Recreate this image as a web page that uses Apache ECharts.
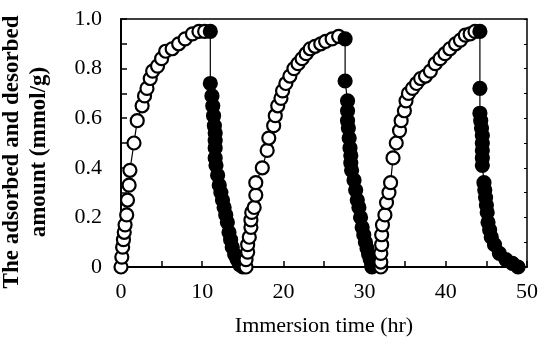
<!DOCTYPE html>
<html>
<head>
<meta charset="utf-8">
<script src="https://cdn.jsdelivr.net/npm/echarts@6/dist/echarts.min.js"></script>
<style>html,body{margin:0;padding:0;background:#fff}#c{width:539px;height:341px}</style>
</head>
<body>
<div id="c"></div>
<script>
// Immersion time (hr), amount (mmol/g)
const ads1 = [[0,0],[0.1,0.04],[0.2,0.08],[0.3,0.11],[0.4,0.14],[0.5,0.17],[0.7,0.21],[0.8,0.27],[1.0,0.33],[1.1,0.39],[1.6,0.50],[2.0,0.59],[2.6,0.65],[2.9,0.69],[3.2,0.72],[3.6,0.76],[3.9,0.79],[4.5,0.81],[5.0,0.84],[5.5,0.87],[6.3,0.88],[7.1,0.90],[7.9,0.92],[8.8,0.94],[9.6,0.95],[10.3,0.95]];
const des1 = [[11.0,0.95],[11.0,0.74],[11.2,0.69],[11.3,0.65],[11.4,0.61],[11.5,0.57],[11.6,0.54],[11.6,0.51],[11.6,0.48],[11.6,0.44],[11.7,0.41],[11.9,0.37],[12.1,0.33],[12.3,0.30],[12.5,0.27],[12.7,0.24],[12.9,0.21],[13.1,0.18],[13.3,0.14],[13.5,0.11],[13.7,0.08],[14.0,0.05],[14.3,0.03],[14.6,0.01],[15.0,0.0]];
const ads2 = [[15.4,0.0],[15.4,0.03],[15.6,0.06],[15.6,0.09],[15.8,0.12],[16.0,0.16],[16.0,0.19],[16.1,0.22],[16.4,0.24],[16.6,0.29],[16.6,0.34],[17.4,0.40],[18.0,0.47],[18.2,0.52],[18.8,0.57],[19.0,0.61],[19.3,0.65],[19.7,0.68],[19.9,0.71],[20.3,0.74],[20.8,0.77],[21.3,0.80],[21.8,0.82],[22.3,0.84],[22.8,0.86],[23.3,0.88],[23.9,0.89],[24.6,0.90],[25.2,0.91],[26.0,0.92],[26.8,0.93]];
const des2 = [[27.6,0.92],[27.6,0.75],[27.9,0.67],[27.9,0.63],[27.9,0.59],[28.0,0.56],[28.1,0.52],[28.2,0.48],[28.3,0.45],[28.3,0.42],[28.4,0.39],[28.7,0.35],[28.9,0.31],[29.1,0.27],[29.3,0.24],[29.5,0.20],[29.7,0.16],[29.9,0.13],[30.1,0.10],[30.3,0.075],[30.5,0.05],[30.7,0.03],[30.9,0.0]];
const ads3 = [[32.0,0.0],[32.0,0.02],[32.0,0.055],[32.1,0.09],[32.1,0.13],[32.2,0.17],[32.5,0.21],[32.7,0.26],[33.0,0.30],[33.2,0.34],[33.5,0.44],[33.9,0.50],[34.3,0.55],[34.5,0.59],[34.9,0.63],[35.1,0.67],[35.4,0.70],[35.9,0.72],[36.4,0.74],[36.9,0.76],[37.5,0.77],[38.1,0.79],[38.7,0.82],[39.3,0.84],[39.9,0.86],[40.5,0.88],[41.2,0.90],[41.8,0.915],[42.4,0.935],[43.0,0.94],[43.6,0.95]];
const des3 = [[44.2,0.95],[44.2,0.72],[44.2,0.62],[44.3,0.59],[44.4,0.56],[44.5,0.53],[44.5,0.50],[44.5,0.47],[44.5,0.44],[44.5,0.41],[44.7,0.34],[44.8,0.31],[44.9,0.28],[45.0,0.25],[45.1,0.22],[45.2,0.18],[45.4,0.15],[45.6,0.12],[46.0,0.09],[46.6,0.055],[47.4,0.03],[48.2,0.015],[48.9,0.0]];
const xTickLabels = ['0','10','20','30','40','50'];
const yTickLabels = ['0','0.2','0.4','0.6','0.8','1.0'];

const FONT = 'Liberation Serif';
function mk(data, filled) {
  return {
    type: 'line', data: data, clip: false,
    symbol: 'circle', symbolSize: 13,
    lineStyle: {color: '#000', width: 1.2},
    itemStyle: {color: filled ? '#000' : '#fff', borderColor: '#000', borderWidth: 2.2, opacity: 1},
    emphasis: {disabled: true},
    animation: false
  };
}
const chart = echarts.init(document.getElementById('c'), null, {renderer: 'canvas'});
chart.setOption({
  backgroundColor: '#fff',
  animation: false,
  grid: {left: 121, right: 12, top: 19, bottom: 74, containLabel: false, outerBoundsMode: 'none'},
  xAxis: [{
    type: 'value', min: 0, max: 50, interval: 5,
    name: 'Immersion time (hr)', nameLocation: 'middle', nameGap: 48,
    nameTextStyle: {fontFamily: FONT, fontSize: 22, color: '#000'},
    axisLine: {lineStyle: {color: '#000', width: 2}},
    axisTick: {inside: true, length: 6, lineStyle: {color: '#000', width: 1.5}},
    axisLabel: {fontFamily: FONT, fontSize: 22, color: '#000', margin: 14,
      formatter: v => (v % 10 === 0 ? xTickLabels[v / 10] : '')},
    splitLine: {show: false}
  }, {
    type: 'value', min: 0, max: 50, position: 'top',
    axisLine: {show: true, onZero: false, lineStyle: {color: '#000', width: 1.5}},
    axisTick: {show: false}, axisLabel: {show: false}, splitLine: {show: false}
  }],
  yAxis: [{
    type: 'value', min: 0, max: 1, interval: 0.1,
    name: 'The adsorbed and desorbed\namount (mmol/g)', nameLocation: 'middle', nameGap: 68,
    nameTextStyle: {fontFamily: FONT, fontSize: 23, fontWeight: 'bold', color: '#000', lineHeight: 27, padding: [0, 18, 0, 0]},
    axisLine: {show: true, lineStyle: {color: '#000', width: 2}},
    axisTick: {inside: true, length: 6, lineStyle: {color: '#000', width: 1.5}},
    axisLabel: {fontFamily: FONT, fontSize: 22, color: '#000', margin: 19,
      formatter: v => { const i = Math.round(v * 10); return i % 2 === 0 ? yTickLabels[i / 2] : ''; }},
    splitLine: {show: false}
  }, {
    type: 'value', min: 0, max: 1, interval: 0.1, position: 'right',
    axisLine: {show: true, onZero: false, lineStyle: {color: '#000', width: 1.5}},
    axisTick: {inside: true, length: 3, lineStyle: {color: '#000', width: 1}},
    axisLabel: {show: false}, splitLine: {show: false}
  }],
  series: [mk(ads1, false), mk(des1, true), mk(ads2, false), mk(des2, true), mk(ads3, false), mk(des3, true)]
});
</script>
</body>
</html>
